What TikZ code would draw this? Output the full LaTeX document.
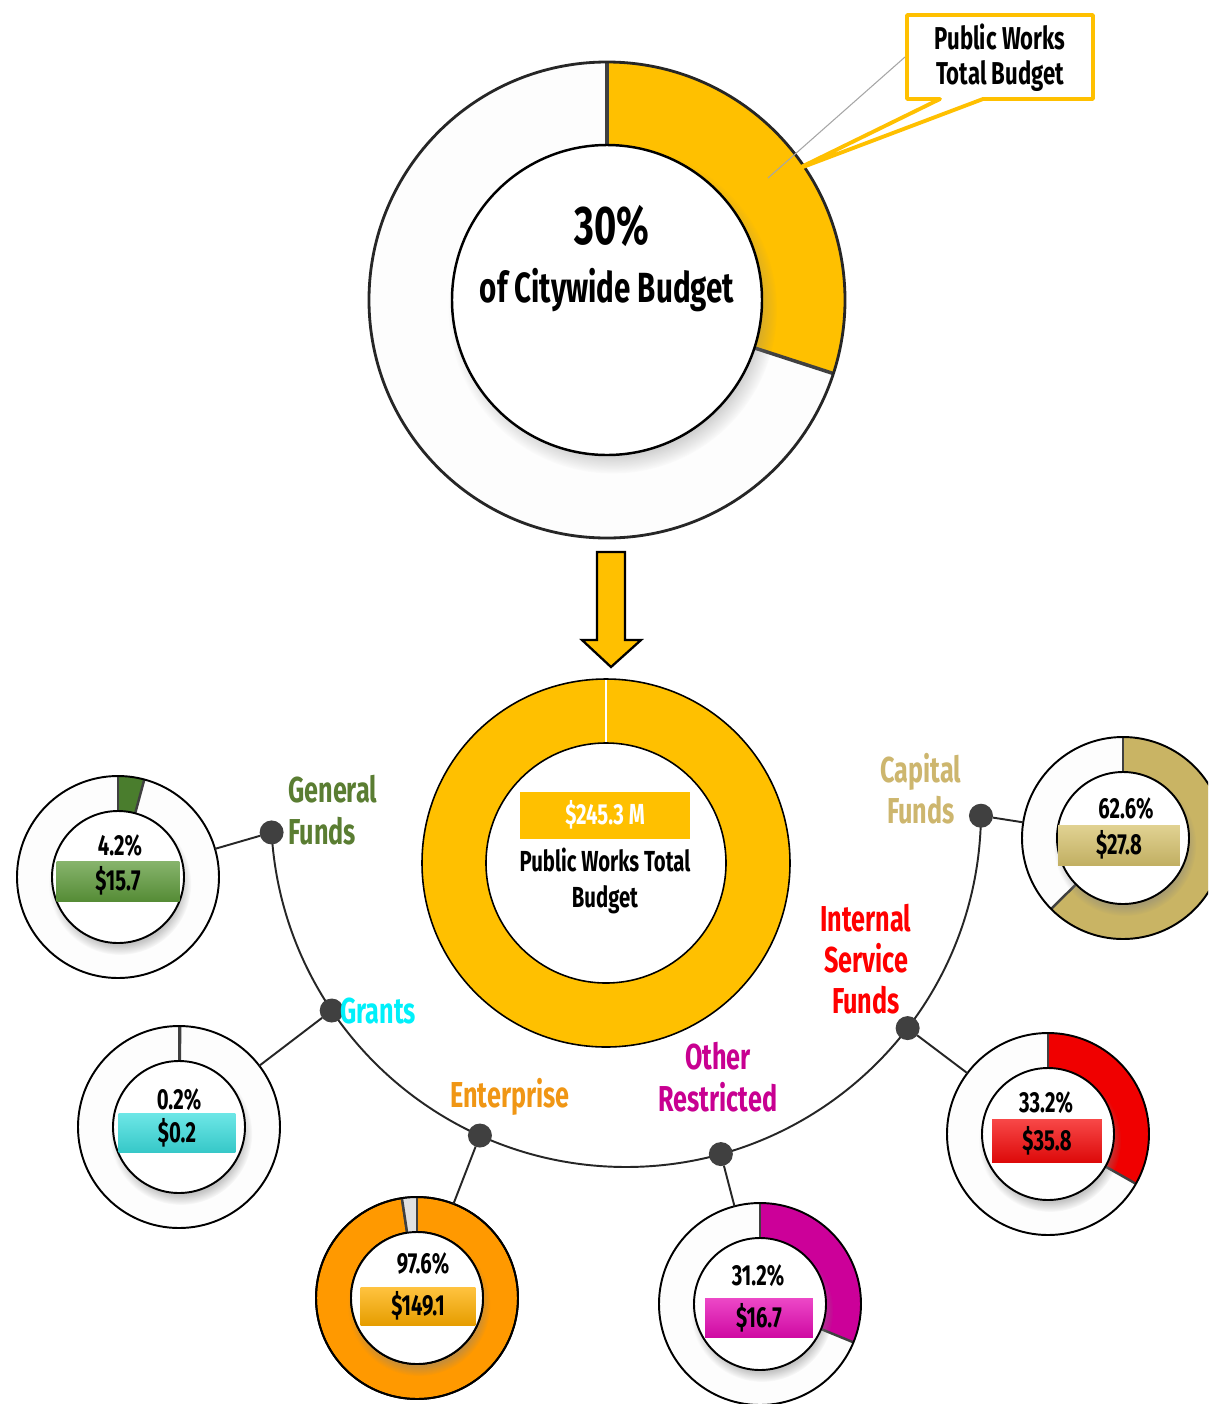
\documentclass[tikz,border=0pt]{standalone}
\usepackage{fontspec}
\newfontfamily\agency[FakeStretch=0.7]{Fira Sans}
\usetikzlibrary{shadows}

\definecolor{pwgold}{RGB}{255,192,0}
\definecolor{ringwhite}{RGB}{253,253,253}
\definecolor{gapgray}{RGB}{225,225,225}
\definecolor{segline}{RGB}{64,64,64}
\definecolor{dotgray}{RGB}{64,64,64}
\definecolor{genseg}{RGB}{74,125,45}
\definecolor{genbox}{RGB}{95,155,60}
\definecolor{genlbl}{RGB}{90,125,50}
\definecolor{grseg}{RGB}{64,224,224}
\definecolor{grbox}{RGB}{60,222,222}
\definecolor{grlbl}{RGB}{0,240,250}
\definecolor{enseg}{RGB}{255,153,0}
\definecolor{enbox}{RGB}{255,175,0}
\definecolor{enlbl}{RGB}{240,150,20}
\definecolor{orseg}{RGB}{204,0,153}
\definecolor{orbox}{RGB}{230,10,180}
\definecolor{orlbl}{RGB}{200,0,145}
\definecolor{isseg}{RGB}{240,0,0}
\definecolor{isbox}{RGB}{245,10,10}
\definecolor{islbl}{RGB}{255,0,0}
\definecolor{cfseg}{RGB}{201,180,100}
\definecolor{cfbox}{RGB}{215,195,110}
\definecolor{cflbl}{RGB}{205,182,110}

\newcommand\pxfont[2]{\agency\bfseries\fontsize{#1}{#2}\selectfont}

% one fund donut: name, x, y, end angle of the share, share colour
\newcommand\fundring[5]{%
  \coordinate (#1c) at (#2,#3);
  \fill[gapgray] (#1c) circle[radius=101];
  \fill[ringwhite] (#1c) circle[radius=101];
  \fill[#5] (#1c) -- ++(-90:101) arc[start angle=-90,end angle=#4,radius=101] -- cycle;
  \draw[segline] (#1c) ++(-90:66) -- ++(-90:35);
  \draw[segline] (#1c) ++(#4:66) -- ++(#4:35);
  \fill[white, smallshadow] (#1c) circle[radius=66];
  \draw[ringedge] (#1c) circle[radius=66];
  \node[fundnode] (#1) at (#1c) {};
  \draw[ringedge] (#1c) circle[radius=101];
}

\tikzset{
  ringedge/.style={draw=black, line width=1.1pt},
  segline/.style={draw=segline, line width=1.4pt},
  smallshadow/.style={circular drop shadow={shadow xshift=1pt, shadow yshift=-3.5pt, shadow scale=1.08, opacity=0.45}},
  bigshadow/.style={circular drop shadow={shadow xshift=3pt, shadow yshift=-5pt, shadow scale=1.06, opacity=0.45}},
  fundnode/.style={circle, minimum size=4.04cm, inner sep=0pt, outer sep=0pt},
  dot/.style={circle, fill=dotgray, minimum size=0.48cm, inner sep=0pt, outer sep=0pt},
  link/.style={draw=black!85, line width=1.1pt},
  bigpct/.style={inner sep=0pt, font=\pxfont{31}{34}},
  bigsub/.style={inner sep=0pt, font=\pxfont{24}{28}},
  calltext/.style={inner sep=0pt, align=center, font=\pxfont{18}{20}},
  fundlabel/.style={inner sep=0pt, font=\pxfont{20.5}{23.5}},
  pcttext/.style={inner sep=0pt, font=\pxfont{16.5}{19}},
  midtext/.style={inner sep=0pt, align=center, font=\pxfont{16.5}{20}},
  valbox/.style={inner sep=0pt, minimum height=0.8cm, font=\pxfont{16.5}{19}},
  shade3/.style={top color=#1!75!white, middle color=#1, bottom color=#1!90!black},
}

\begin{document}
\begin{tikzpicture}[x=0.02cm, y=-0.02cm]
\useasboundingbox (0,0) rectangle (1208,1404);
\fill[white] (0,0) rectangle (1208,1404);
\clip (0,0) rectangle (1208,1404);

% ---------- citywide share ring ----------
\coordinate (topC) at (607,300);
\fill[ringwhite] (topC) circle[radius=238];
\fill[pwgold] (topC) -- ++(-90:238) arc[start angle=-90,end angle=18,radius=238] -- cycle;
\draw[segline, line width=2pt] (topC) ++(-90:155) -- ++(-90:83);
\draw[segline, line width=2pt] (topC) ++(18:155) -- ++(18:83);
\fill[white, bigshadow] (topC) circle[radius=155];
\draw[ringedge, line width=1.4pt] (topC) circle[radius=155];
\draw[ringedge, line width=1.6pt, draw=black!85] (topC) circle[radius=238];

\node[bigpct, anchor=base] (pct30) at (612,244) {30\%};
\node[bigsub, anchor=base] (citywide) at (607,302) {of Citywide Budget};

% callout
\coordinate (leadA) at (905,57);
\coordinate (leadB) at (768,178);
\draw[gray!70, line width=0.6pt] (leadA) -- (leadB);
\draw[draw=pwgold, fill=white, line width=2.2pt, line join=round]
  (907,15) -- (1093,15) -- (1093,99) -- (983,99) -- (795,170) -- (940,99) -- (907,99) -- cycle;
\node[calltext] (callout) at (1000,58) {Public Works\\Total Budget};

% down arrow
\draw[fill=pwgold, draw=black, line width=1.3pt, line join=miter]
  (597,552) -- (625,552) -- (625,640) -- (641,640) -- (611,667) -- (582,640) -- (597,640) -- cycle;

% ---------- Public Works total ring ----------
\coordinate (midC) at (606,863);
\fill[pwgold] (midC) circle[radius=184];
\draw[white, line width=0.9pt] (midC) ++(-90:120) -- ++(-90:64);
\fill[white] (midC) circle[radius=120];
\draw[draw=black, line width=0.9pt] (midC) circle[radius=120];
\draw[draw=black, line width=0.9pt] (midC) circle[radius=184];
\node[valbox, fill=pwgold, text=white, minimum width=3.4cm, minimum height=0.94cm] (ptAmount) at (605,815) {\$245.3 M};
\node[midtext] (ptLabel) at (605,881) {Public Works Total\\Budget};

% ---------- fund rings ----------
\fundring{gen}{118}{877}{-74.9}{genseg}
\fundring{gra}{179}{1127}{-89.3}{grseg}
\fundring{ent}{417}{1298}{261.4}{enseg}
\fundring{oth}{760}{1304}{22.3}{orseg}
\fundring{ins}{1048}{1134}{29.5}{isseg}
\fundring{cap}{1123}{838}{135.4}{cfseg}

% the small share missing from the enterprise ring
\fill[gapgray] (entc) -- ++(261.4:100) arc[start angle=261.4,end angle=270,radius=100] -- cycle;
\draw[segline] (entc) ++(-90:66) -- ++(-90:35);
\draw[segline] (entc) ++(261.4:66) -- ++(261.4:35);
\fill[white] (entc) circle[radius=66];
\draw[ringedge] (entc) circle[radius=66];
\draw[ringedge] (entc) circle[radius=101];

\node[pcttext, anchor=base] (genPct) at (120,855) {4.2\%};
\node[valbox, shade3=genbox, minimum width=2.46cm] (genVal) at (118,881) {\$15.7};
\node[pcttext, anchor=base] (graPct) at (179,1109) {0.2\%};
\node[valbox, shade3=grbox, minimum width=2.34cm, minimum height=0.78cm] (graVal) at (177,1133) {\$0.2};
\node[pcttext, anchor=base] (entPct) at (423,1273) {97.6\%};
\node[valbox, shade3=enbox, minimum width=2.3cm, minimum height=0.76cm] (entVal) at (418,1306) {\$149.1};
\node[pcttext, anchor=base] (othPct) at (758,1285) {31.2\%};
\node[valbox, shade3=orbox, minimum width=2.16cm, minimum height=0.78cm] (othVal) at (759,1318) {\$16.7};
\node[pcttext, anchor=base] (insPct) at (1046,1112) {33.2\%};
\node[valbox, shade3=isbox, minimum width=2.2cm, minimum height=0.86cm] (insVal) at (1047,1141) {\$35.8};
\node[pcttext, anchor=base] (capPct) at (1126,818) {62.6\%};
\node[valbox, shade3=cfbox, minimum width=2.44cm, minimum height=0.8cm] (capVal) at (1119,845) {\$27.8};

% ---------- connector arc and fund dots ----------
\coordinate (arcC) at (626,812);
\draw[link] (arcC) ++(0.6:355) arc[start angle=0.6, end angle=176.7, radius=355];
\path (arcC) ++(176.7:355) node[dot] (dGen) {};
\path (arcC) ++(146:355) node[dot] (dGra) {};
\path (arcC) ++(114.3:355) node[dot] (dEnt) {};
\path (arcC) ++(74.5:355) node[dot] (dOth) {};
\path (arcC) ++(37.5:355) node[dot] (dIns) {};
\path (arcC) ++(0.6:355) node[dot] (dCap) {};

\draw[link] (dGen) -- (gen);
\draw[link] (dGra) -- (gra);
\draw[link] (dEnt) -- (ent);
\draw[link] (dOth) -- (oth);
\draw[link] (dIns) -- (ins);
\draw[link] (dCap) -- (cap);

% ---------- fund labels ----------
\node[fundlabel, text=genlbl, align=left, anchor=west] (genLbl) at (288,810) {General\\Funds};
\node[fundlabel, text=grlbl, anchor=base west] (graLbl) at (340,1023) {Grants};
\node[fundlabel, text=enlbl, anchor=base west] (entLbl) at (450,1107) {Enterprise};
\node[fundlabel, text=orlbl, align=center] (othLbl) at (718,1077) {Other\\Restricted};
\node[fundlabel, text=islbl, align=center] (insLbl) at (866,959) {Internal\\Service\\Funds};
\node[fundlabel, text=cflbl, align=center] (capLbl) at (921,789) {Capital\\Funds};
\end{tikzpicture}
\end{document}
